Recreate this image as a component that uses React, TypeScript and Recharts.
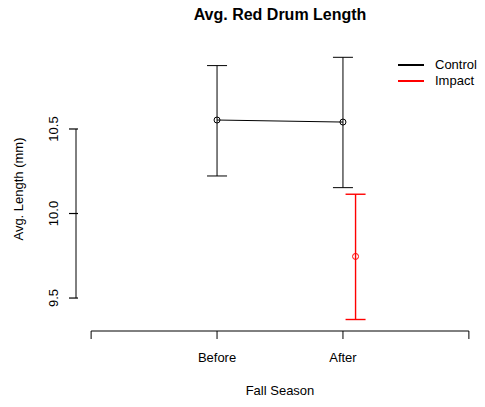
import { ComposedChart, Scatter, ErrorBar, XAxis, YAxis, ReferenceLine, Label } from "recharts";

// season categories and the x-axis tick labels (R style: empty outer ticks)
const SEASONS = ["Before", "After"];
const X_TICKS = [0, 1, 2, 3];
const X_TICK_LABELS = ["", "Before", "After", ""];
const Y_TICKS = [9.5, 10.0, 10.5];

// control group: means and CI bounds
const CONTROL_MEAN = [10.553, 10.541];
const CONTROL_LOWER = [10.222, 10.153];
const CONTROL_UPPER = [10.875, 10.924];

// impact group: only sampled after
const IMPACT_SEASONS = ["After"];
const IMPACT_MEAN = [9.746];
const IMPACT_LOWER = [9.373];
const IMPACT_UPPER = [10.114];

const LEGEND_NAMES = ["Control", "Impact"];
const LEGEND_COLORS = ["#000000", "#ff0000"];

const IMPACT_OFFSET = 0.1;
const X_DOMAIN = [-0.12, 3.12];
const Y_DOMAIN = [9.305, 10.985];
const FONT = "'Liberation Sans', Arial, Helvetica, sans-serif";

const controlData = SEASONS.map((s, i) => ({
  x: X_TICK_LABELS.indexOf(s),
  y: CONTROL_MEAN[i],
  errC: [CONTROL_MEAN[i] - CONTROL_LOWER[i], CONTROL_UPPER[i] - CONTROL_MEAN[i]],
}));

const impactData = IMPACT_SEASONS.map((s, i) => ({
  x: X_TICK_LABELS.indexOf(s) + IMPACT_OFFSET,
  y: IMPACT_MEAN[i],
  errI: [IMPACT_MEAN[i] - IMPACT_LOWER[i], IMPACT_UPPER[i] - IMPACT_MEAN[i]],
}));

function openCircle(color: string) {
  return (props: any) => (
    <circle cx={props.cx} cy={props.cy} r={3} fill="none" stroke={color} strokeWidth={1} />
  );
}

function XTick({ x, y, payload }: any) {
  return (
    <text x={x} y={y} dy="0.71em" textAnchor="middle" fontSize={13} fontFamily={FONT} fill="#000">
      {X_TICK_LABELS[payload.value]}
    </text>
  );
}

function YTick({ x, y, payload }: any) {
  const tx = x - 8;
  return (
    <g>
      <line x1={x + 3} x2={x + 12} y1={y} y2={y} stroke="#000" strokeWidth={1.2} />
      <text x={tx} y={y} transform={`rotate(-90 ${tx} ${y})`} textAnchor="middle" fontSize={13} fontFamily={FONT} fill="#000">
        {payload.value.toFixed(1)}
      </text>
    </g>
  );
}

function LegendBox() {
  return (
    <div style={{ fontFamily: FONT, fontSize: 13, lineHeight: "16px" }}>
      {LEGEND_NAMES.map((n, i) => (
        <div key={n} style={{ display: "flex", alignItems: "center" }}>
          <span style={{ display: "inline-block", width: 26, height: 2, background: LEGEND_COLORS[i], marginRight: 11 }} />
          <span>{n}</span>
        </div>
      ))}
    </div>
  );
}

export default function App() {
  return (
    <div style={{ position: "absolute", left: 0, top: 0, width: 485, height: 407, background: "#fff" }}>
      <div
        style={{
          position: "absolute",
          left: 76,
          width: 408,
          top: 7,
          textAlign: "center",
          fontFamily: FONT,
          fontWeight: "bold",
          fontSize: 16,
          lineHeight: "16px",
        }}
      >
        Avg. Red Drum Length
      </div>
      <ComposedChart width={485} height={407} margin={{ top: 47, right: 1, bottom: 0, left: 0 }}>
        <XAxis
          type="number"
          dataKey="x"
          domain={X_DOMAIN}
          ticks={X_TICKS}
          allowDataOverflow
          axisLine={false}
          tickLine={{ stroke: "#000" }}
          tickSize={8}
          tickMargin={14}
          tick={<XTick />}
          height={76}
          interval={0}
        >
          <Label
            content={({ viewBox }: any) => (
              <text x={viewBox.x + viewBox.width / 2} y={viewBox.y + 64} textAnchor="middle" fontSize={13} fontFamily={FONT} fill="#000">
                Fall Season
              </text>
            )}
          />
        </XAxis>
        <YAxis
          type="number"
          dataKey="y"
          domain={Y_DOMAIN}
          ticks={Y_TICKS}
          allowDataOverflow
          axisLine={false}
          tickLine={false}
          tickSize={8}
          tickMargin={2}
          tick={<YTick />}
          width={76}
          interval={0}
        >
          <Label
            content={({ viewBox }: any) => {
              const cx = viewBox.x + 23;
              const cy = viewBox.y + viewBox.height / 2;
              return (
                <text x={cx} y={cy} transform={`rotate(-90 ${cx} ${cy})`} textAnchor="middle" fontSize={13} fontFamily={FONT} fill="#000">
                  Avg. Length (mm)
                </text>
              );
            }}
          />
        </YAxis>
        <ReferenceLine
          segment={[{ x: X_TICKS[0], y: Y_DOMAIN[0] }, { x: X_TICKS[X_TICKS.length - 1], y: Y_DOMAIN[0] }]}
          stroke="#000"
          ifOverflow="visible"
        />
        <ReferenceLine
          segment={[{ x: X_DOMAIN[0], y: Y_TICKS[0] }, { x: X_DOMAIN[0], y: Y_TICKS[Y_TICKS.length - 1] }]}
          stroke="#000"
          ifOverflow="visible"
        />
        <Scatter
          name="Control"
          data={controlData}
          dataKey="y"
          line={{ stroke: "#000", strokeWidth: 1 }}
          shape={openCircle("#000")}
          isAnimationActive={false}
        >
          <ErrorBar dataKey="errC" direction="y" width={10} stroke="#000" strokeWidth={1} />
        </Scatter>
        <Scatter
          name="Impact"
          data={impactData}
          dataKey="y"
          shape={openCircle("#ff0000")}
          isAnimationActive={false}
        >
          <ErrorBar dataKey="errI" direction="y" width={10} stroke="#ff0000" strokeWidth={1.4} />
        </Scatter>
      </ComposedChart>
      <div style={{ position: "absolute", left: 398, top: 57 }}>
        <LegendBox />
      </div>
    </div>
  );
}
